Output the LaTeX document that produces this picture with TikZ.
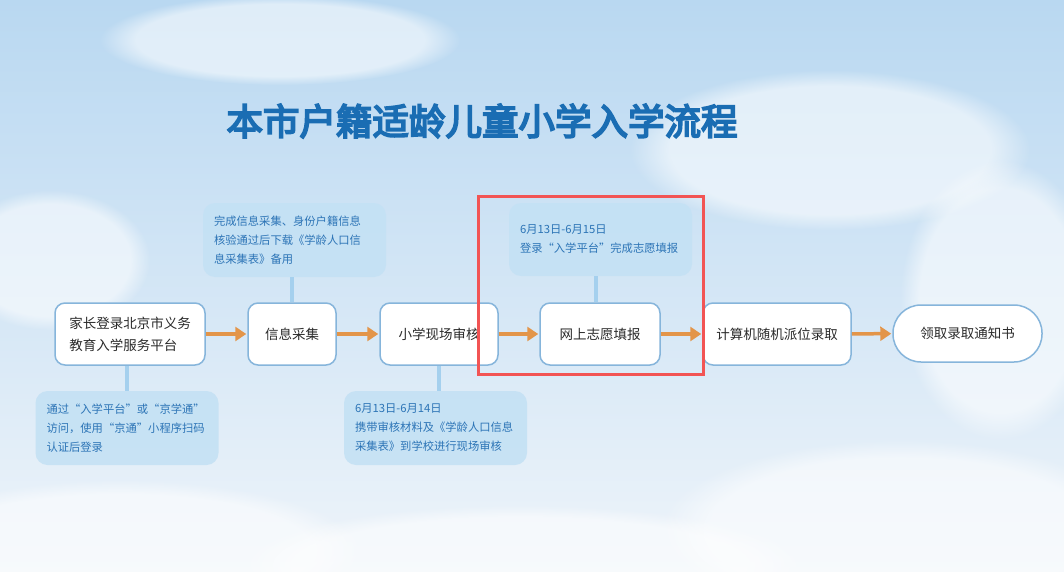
\documentclass[tikz,border=0pt]{standalone}
\usepackage{fontspec}
\setmainfont{Noto Sans CJK SC}
\newfontfamily\titlefont{Noto Sans CJK SC}[FakeBold=5]
\usetikzlibrary{arrows.meta,fadings}
\definecolor{skytop}{HTML}{B9D8F1}
\definecolor{skybot}{HTML}{EEF4FA}
\definecolor{titleblue}{HTML}{1A6DB3}
\definecolor{nodeborder}{HTML}{86B5DB}
\definecolor{nodetext}{HTML}{2A2A2A}
\definecolor{calloutfill}{HTML}{C4E1F4}
\definecolor{callouttext}{HTML}{2C74B6}
\definecolor{connblue}{HTML}{A5D0EE}
\definecolor{flowor}{HTML}{E39549}
\definecolor{hlred}{HTML}{F25454}
\tikzset{
  stepbox/.style={draw=nodeborder, line width=1.5pt, fill=white, rounded corners=10pt,
    minimum height=62pt, text=nodetext, font=\fontsize{13.5}{22}\selectfont, align=left, inner sep=0pt},
  endbox/.style={draw=nodeborder, line width=1.5pt, fill=white, rounded corners=28pt,
    minimum height=57pt, minimum width=149pt, text=nodetext, font=\fontsize{13.5}{22}\selectfont, inner sep=0pt},
  callout/.style={fill=calloutfill, fill opacity=0.9, text opacity=1, rounded corners=12pt,
    minimum width=183pt, minimum height=74pt, text width=161pt, align=left, inner xsep=11pt,
    text=callouttext, font=\fontsize{11.3}{19}\selectfont},
  conn/.style={draw=connblue, line width=4pt},
  flow/.style={draw=flowor, line width=3.5pt, -{Triangle[length=11pt,width=14pt]}, shorten >=1pt},
  cloud/.style={fill=white, path fading=circle with fuzzy edge 20 percent, opacity=0.55}
}
\begin{document}
\begin{tikzpicture}[x=1pt,y=-1pt]
\shade[top color=skytop, bottom color=skybot] (0,0) rectangle (1064,572);
\useasboundingbox (0,0) rectangle (1064,572);
% clouds
\fill[cloud] (120,550) ellipse (240 and 70);
\fill[cloud] (520,565) ellipse (280 and 60);
\fill[cloud] (900,530) ellipse (240 and 90);
\fill[cloud] (830,150) ellipse (200 and 80);
\fill[cloud] (280,40) ellipse (180 and 45);
\fill[cloud] (1000,300) ellipse (100 and 140);
\fill[cloud] (50,260) ellipse (100 and 70);
% title
\node[font=\titlefont\fontsize{36.5}{40}\selectfont, text=titleblue] (title) at (482,121) {本市户籍适龄儿童小学入学流程};
% main nodes
\node[stepbox, minimum width=150pt] (n1) at (130,334) {家长登录北京市义务\\教育入学服务平台};
\node[stepbox, minimum width=88pt] (n2) at (292,334) {信息采集};
\node[stepbox, minimum width=118pt] (n3) at (439,334) {小学现场审核};
\node[stepbox, minimum width=120pt] (n4) at (600,334) {网上志愿填报};
\node[stepbox, minimum width=148pt] (n5) at (777,334) {计算机随机派位录取};
\node[endbox] (n6) at (967.5,333.5) {领取录取通知书};
% callouts
\node[callout] (cA) at (294.5,240) {完成信息采集、身份户籍信息\\核验通过后下载《学龄人口信\\息采集表》备用};
\node[callout] (cB) at (127,428) {通过“入学平台”或“京学通”\\访问，使用“京通”小程序扫码\\认证后登录};
\node[callout] (cC) at (435.5,428) {6月13日-6月14日\\携带审核材料及《学龄人口信息\\采集表》到学校进行现场审核};
\node[callout, minimum height=73pt] (cD) at (600.5,239.5) {6月13日-6月15日\\登录“入学平台”完成志愿填报};
% connectors
\draw[conn] (n2.north) -- (n2.north |- cA.south);
\draw[conn] ([xshift=-3pt]n1.south) -- ([xshift=-3pt]n1.south |- cB.north);
\draw[conn] (n3.south) -- (n3.south |- cC.north);
\draw[conn] ([xshift=-4pt]n4.north) -- ([xshift=-4pt]n4.north |- cD.south);
% flow arrows
\draw[flow] (n1) -- (n2);
\draw[flow] (n2) -- (n3);
\draw[flow] (n3) -- (n4);
\draw[flow] (n4) -- (n5);
\draw[flow] (n5) -- (n6);
% highlight
\draw[hlred, line width=3pt] (478,196) rectangle (703,374);
\end{tikzpicture}
\end{document}
